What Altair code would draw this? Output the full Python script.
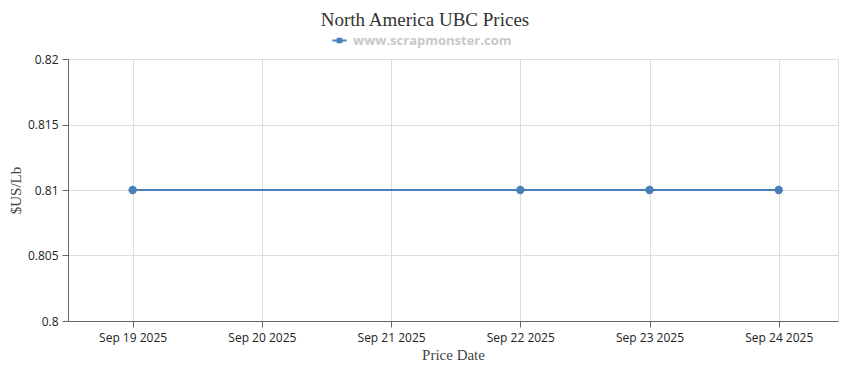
import altair as alt
import pandas as pd

dates = ["2025-09-19", "2025-09-22", "2025-09-23", "2025-09-24"]
prices = [0.81, 0.81, 0.81, 0.81]
series_name = "www.scrapmonster.com"
tick_dates = ["2025-09-19", "2025-09-20", "2025-09-21", "2025-09-22", "2025-09-23", "2025-09-24"]
y_ticks = [0.8, 0.805, 0.81, 0.815, 0.82]

df = pd.DataFrame({"date": dates, "price": prices, "series": [series_name] * len(dates)})

def dt(s, h=0):
    y, m, d = (int(v) for v in s.split("-"))
    return alt.DateTime(year=y, month=m, date=d, hours=h, utc=True)

blue = "#4a7ebb"

x = alt.X(
    "date:T",
    scale=alt.Scale(type="utc", domain=[dt("2025-09-18", 12), dt("2025-09-24", 11)]),
    axis=alt.Axis(
        title="Price Date",
        values=[dt(s) for s in tick_dates],
        labelExpr="utcFormat(datum.value, '%b %d %Y')",
        labelFont="Open Sans",
        labelFontSize=12,
        labelColor="#222",
        titleFont="Liberation Serif",
        titleFontSize=15,
        titleFontWeight="normal",
        titleColor="#444",
        titlePadding=4,
        domainColor="#666",
        tickColor="#666",
        tickSize=6,
        gridColor="#dddddd",
        labelPadding=5,
    ),
)
y = alt.Y(
    "price:Q",
    scale=alt.Scale(domain=[0.8, 0.82], nice=False, zero=False),
    axis=alt.Axis(
        title="$US/Lb",
        values=y_ticks,
        labelExpr="format(datum.value, '~g')",
        labelFont="Open Sans",
        labelFontSize=12,
        labelColor="#222",
        titleFont="Liberation Serif",
        titleFontSize=15,
        titleFontWeight="normal",
        titleColor="#444",
        titlePadding=4,
        domainColor="#666",
        tickColor="#666",
        tickSize=6,
        gridColor="#dddddd",
        labelPadding=4,
    ),
)

color = alt.Color(
    "series:N",
    scale=alt.Scale(range=[blue]),
    legend=alt.Legend(
        title=None,
        orient="none",
        legendX=264,
        legendY=-26,
        symbolType="M-1,-0.14L1,-0.14L1,0.14L-1,0.14Z M-0.4,-0.4L0.4,-0.4L0.4,0.4L-0.4,0.4Z",
        symbolSize=200,
        symbolFillColor=blue,
        symbolStrokeColor=blue,
        symbolStrokeWidth=0,
        labelFont="Open Sans",
        labelFontSize=13,
        labelFontWeight="bold",
        labelColor="#c8c8c8",
        labelOffset=6,
    ),
)

base = alt.Chart(df).encode(x=x, y=y, color=color)
line = base.mark_line(strokeWidth=2)
points = base.mark_point(filled=True, size=70, opacity=1)

chart = (
    alt.layer(line, points)
    .properties(
        width=770,
        height=262,
        title=alt.TitleParams(
            "North America UBC Prices",
            font="Liberation Serif",
            fontSize=19,
            fontWeight="normal",
            color="#333",
            anchor="middle",
            dx=-28,
            offset=3,
        ),
        autosize=alt.AutoSizeParams(type="none"),
        padding={"left": 60, "top": 51, "right": 4, "bottom": 41},
    )
    .configure_view(stroke=None)
    .configure(background="white")
)

chart.save("out.html", embed_options={"renderer": "svg", "actions": False})
